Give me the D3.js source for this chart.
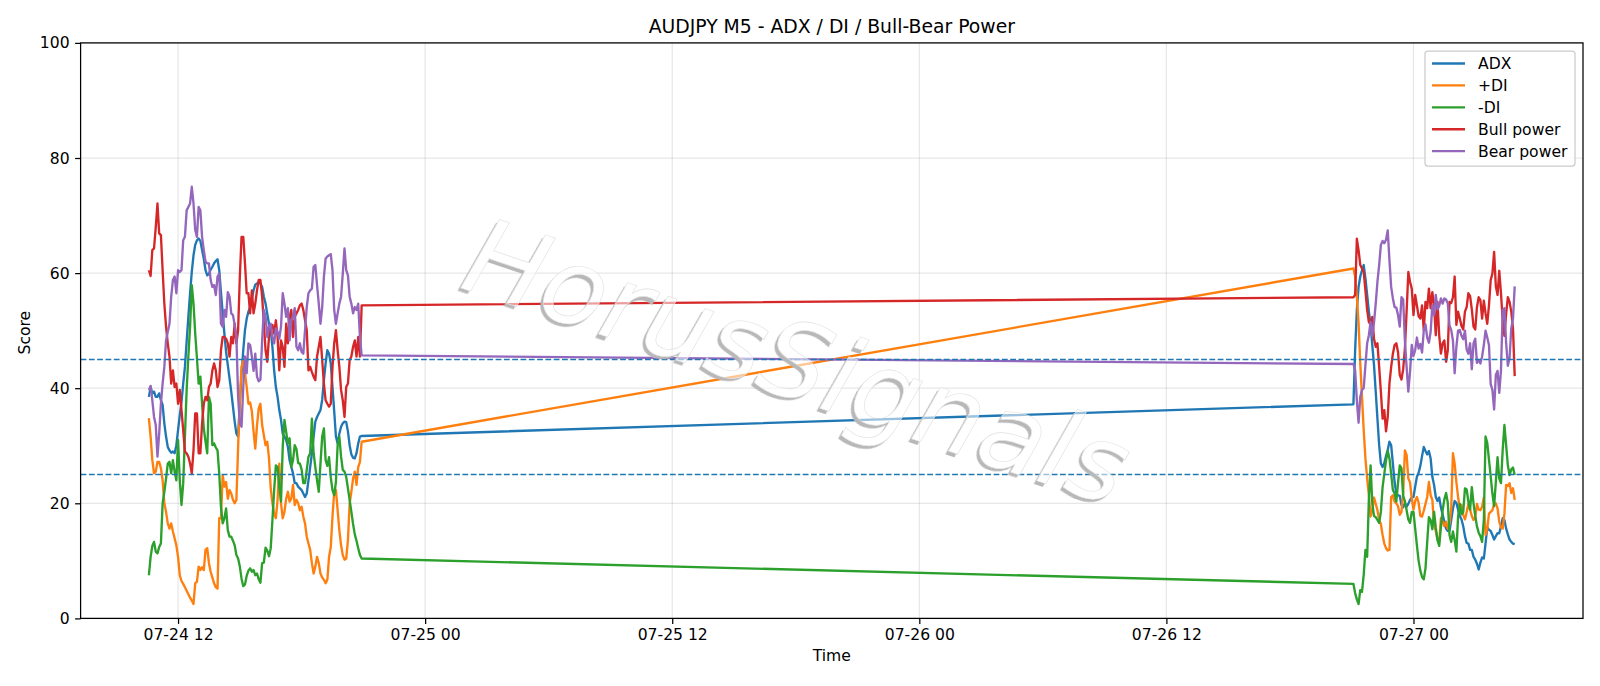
<!DOCTYPE html>
<html>
<head>
<meta charset="utf-8">
<script src="https://d3js.org/d3.v7.min.js"></script>
<style>
html, body { margin: 0; padding: 0; background: #fff; }
svg text { font-family: "DejaVu Sans", sans-serif; }
</style>
</head>
<body>
<div id="svgcontainer"></div>
<script>
// global variables
var WIDTH = 1600;
var HEIGHT = 686;
var PLOT_LEFT = 80.6;
var PLOT_RIGHT = 1583;
var PLOT_TOP = 42.9;
var PLOT_BOTTOM = 618.4;

var TITLE = "AUDJPY M5 - ADX / DI / Bull-Bear Power";
var WATERMARK = "HorusSignals";
var SERIES_NAMES = ["ADX", "+DI", "-DI", "Bull power", "Bear power"];
var SERIES_COLORS = ["#1f77b4", "#ff7f0e", "#2ca02c", "#d62728", "#9467bd"];
var Y_TICKS = [0, 20, 40, 60, 80, 100];
var LEVELS = [25, 45];

// two sessions of M5 bars (friday, then sunday open)
var SEG_STARTS = ["2020-07-24T10:35:00Z", "2020-07-26T21:05:00Z"];
var SEG_LENGTHS = [125, 95];

var adx = [
  38.5, 40.2, 39.1, 39.4, 38.5, 38.5, 39.1, 37.9, 37.1, 33.9,
  31.6, 29.8, 29.2, 28.8, 29, 28.7, 30.1, 32.7, 35.3, 37.6,
  40.8, 43.7, 48.1, 52.4, 56.5, 60.2, 63.1, 64.9, 65.7, 66,
  65.6, 64, 62.5, 60.5, 59.6, 59.9, 60.6, 61.1, 61.7, 62.1,
  62.4, 60.5, 56.7, 53, 49.5, 46.3, 44, 41.7, 39.4, 36.8,
  34.2, 32.1, 31.6, 37.3, 42.6, 46.6, 50.1, 52.1, 53.3, 54.1,
  55.5, 57, 58, 58.2, 58.4, 58.2, 57.6, 55.9, 54.7, 52.9,
  51.2, 50.1, 47.2, 43.1, 40.2, 38.5, 36.2, 34.5, 32.1, 31.6,
  31, 29.8, 27.5, 26.3, 25.2, 23.5, 23.5, 22.9, 22.6, 22.3,
  21.7, 21.1, 21.7, 24, 26.3, 28.7, 31.6, 34.2, 35, 35.6,
  36.2, 38, 41.4, 44.3, 46.6, 46, 44.3, 40.2, 36, 31.6,
  30.4, 32.1, 33.3, 33.9, 34.2, 34.1, 32.5, 30.1, 28.5, 27.9,
  27.8, 28.7, 30.4, 31.6, 31.7,
  37.2, 46.6, 53.6, 57.6, 59.4, 60.5, 61.4, 59.1, 56.2, 53.3,
  51, 47.5, 44, 39.4, 34.7, 30.1, 26.9, 26.3, 27, 28.2,
  29.3, 30.7, 30.1, 26.9, 23.7, 21.7, 21.4, 21.3, 19.7, 19.3,
  20, 19.4, 19.9, 20.6, 21, 21.1, 22.9, 24.6, 25.3, 26.5,
  28.2, 29.8, 29.1, 28.5, 29.1, 27.8, 24.6, 23.2, 21.1, 20.4,
  21, 19.3, 18, 16.8, 15.6, 15.2, 15.2, 17.1, 19.1, 20.4,
  20.1, 18.9, 17.8, 17.2, 16, 14.3, 13.1, 13, 11.9, 11.9,
  10.7, 10.2, 9.5, 8.5, 9.7, 10.6, 10.4, 13, 15.8, 15.4,
  15.2, 14.5, 13.7, 14.3, 14.8, 14.8, 16, 17.4, 17.1, 15.6,
  14.6, 13.7, 13.3, 13, 12.9
];

var plusDI = [
  34.8, 31.6, 27.5, 25.2, 25.5, 27.2, 27.2, 26.1, 24, 20,
  18.5, 16.5, 15.6, 16.5, 15.1, 13.9, 12.7, 10.7, 7.5, 6.5,
  6, 5.4, 4.8, 4.2, 3.6, 3.1, 2.5, 6.1, 6.4, 9,
  8.4, 8.9, 8.4, 11.9, 12.2, 9.6, 8.1, 7.1, 6.1, 5.4,
  5.2, 17.4, 17.4, 24.9, 22.9, 23.7, 20.8, 22.3, 21.7, 20.6,
  20, 20.6, 29.8, 37.9, 43.7, 44.9, 42.6, 40.2, 37.3, 37.5,
  36, 32.5, 29.5, 33.5, 36.5, 37.3, 33.6, 31.8, 30.1, 30.7,
  27.8, 22.6, 20, 18.2, 17.4, 20.6, 26.9, 20, 17.4, 18.5,
  20.8, 22, 20.3, 20.8, 23.2, 19.7, 20.6, 20, 18.8, 19.4,
  17.7, 16.5, 14.2, 13, 11.9, 9.6, 7.8, 9, 10.7, 9.6,
  7.8, 7.1, 6.7, 6.1, 6.7, 10.7, 12.4, 17.7, 22, 22.3,
  18.8, 15.3, 12.7, 11, 10.2, 10.4, 13.6, 20, 22, 24.3,
  25.5, 23.2, 26.3, 27.2, 30.7,
  60.8, 59.4, 55.9, 51.3, 44.3, 38.5, 32.7, 27.8, 24.3, 21.4,
  17.7, 18.8, 21, 19.9, 18.8, 17.1, 16.4, 14.5, 13, 12.2,
  11.8, 11.9, 21.1, 21.4, 20.3, 20, 19.5, 18, 18.5, 21.7,
  29.2, 28.4, 24.3, 23.6, 20.8, 18.9, 20.4, 21.1, 20.1, 17.8,
  17.7, 18.7, 19.9, 21.1, 23.7, 21.4, 20.6, 16.2, 15.2, 13.7,
  13.3, 17.4, 16.8, 16, 16.8, 15.6, 16.4, 19.1, 28.7, 26.9,
  23.7, 21.1, 19.1, 19.7, 18, 17.2, 18.5, 19.9, 18.9, 17.8,
  17.1, 17.6, 19.9, 18.9, 18.8, 19.4, 21, 14.5, 15.5, 18.2,
  18.5, 18.8, 19.9, 20, 19.1, 16.8, 15.8, 15.6, 18.2, 23.2,
  23, 23.5, 21.8, 22.6, 20.6
];

var minusDI = [
  7.5, 10.7, 12.6, 13.3, 11.6, 11.3, 12.4, 13, 20, 22,
  24.3, 26.9, 27.2, 25.2, 27.5, 25.5, 24, 31, 24, 19.7,
  23.5, 31.6, 39.7, 45.5, 50.7, 57.9, 54.7, 49.5, 45.2, 40.8,
  42, 37.3, 33, 30.7, 28.7, 38.5, 37.3, 30.1, 30.4, 29.7,
  29.2, 25.2, 19.4, 16.5, 17.4, 19.1, 15.3, 14.2, 14.2, 13.5,
  12.7, 11, 10.4, 9, 6.9, 5.6, 5.9, 7.4, 8.3, 8.7,
  8.1, 8.4, 7.5, 7.8, 6.8, 6.2, 9.6, 9.7, 12.3, 11.8,
  10.8, 12.2, 17.1, 22.3, 26.6, 26.3, 22.9, 20.3, 29.8, 34.5,
  32.4, 30.4, 31.3, 26.3, 27.5, 30.1, 29.4, 27, 26.9, 25.9,
  23.5, 23.5, 25.8, 28.1, 28.7, 34.7, 28.7, 26.3, 24, 22,
  26.9, 31.6, 33, 27.5, 26.5, 28, 24.5, 22.3, 21.4, 23.7,
  30.1, 31.6, 28.1, 25.8, 25.5, 24.6, 22.6, 20.6, 18.5, 16.4,
  14.6, 13.5, 12.2, 11, 10.4,
  6, 4.4, 3.3, 2.5, 4.9, 4.6, 7.6, 11.9, 10.7, 20.6,
  26.6, 20, 17.8, 17.6, 17.1, 16.6, 18.5, 22.8, 25.1, 27.4,
  29.1, 27.8, 25.1, 22.3, 21.7, 20.3, 23.5, 26.6, 26.1, 21.3,
  20.4, 18.8, 17.2, 16.6, 18.5, 18.5, 15.6, 12.7, 10, 8.3,
  7.2, 6.8, 8.7, 13.3, 17.6, 17.1, 15.5, 18.5, 15.8, 13.6,
  12.6, 15.9, 18.8, 20.7, 21.8, 20.1, 14.5, 13.3, 15.1, 13.6,
  11.6, 17.7, 19.9, 18.1, 18.5, 22.6, 22.4, 20.3, 18.9, 22.8,
  20, 17.8, 16, 14.9, 14.3, 13.3, 17.1, 31.6, 30.5, 27.6,
  24.7, 21.7, 19.5, 23.7, 28, 24.3, 23.5, 29.3, 33.6, 30.1,
  26.6, 24.9, 25.9, 26.2, 24.9
];

var bullPower = [
  60.5, 59.5, 64, 64.3, 68, 72.1, 66.9, 66.6, 60.5, 54.7,
  50.7, 47.8, 45.5, 40.8, 43.1, 40.2, 40.8, 37.3, 39.7, 36.2,
  32.7, 29, 28.7, 28.1, 26.9, 25.2, 29.2, 35.6, 35.6, 28.7,
  28.7, 33.9, 37.3, 38.5, 37.9, 40.2, 40.8, 43.1, 44.3, 43.1,
  40.2, 41.4, 46.6, 48.9, 48.9, 48.6, 47.8, 45.5, 48.9, 47.8,
  51.2, 47.8, 50.1, 59.4, 66.3, 66.3, 61.7, 56.5, 56.5, 53,
  57, 53, 54.7, 57, 58.8, 58.8, 55.9, 51.2, 46.6, 44.6,
  48.9, 50.7, 51, 49.5, 51.8, 48.9, 43.1, 48.3, 47.2, 43.7,
  51.2, 47.8, 52.4, 53.6, 48.9, 52.4, 53, 53.6, 54.4, 54.7,
  53.6, 51.8, 50.1, 43.1, 43.7, 42.8, 42, 41.4, 45.5, 47.2,
  48.9, 44.9, 40.8, 37.9, 37.3, 36.8, 37.3, 43.7, 47.8, 50.1,
  46.6, 43.7, 39.7, 37.9, 35, 40.2, 40.8, 44.9, 45.5, 47.2,
  48.3, 45.5, 48.9, 45.5, 54.4,
  55.8, 56.2, 66, 64, 61.4, 60.8, 60.2, 57, 53.6, 51.5,
  51, 52.4, 48.6, 47.2, 47.8, 43.7, 39.4, 34.7, 36.2, 32.5,
  35, 40.8, 43.7, 46, 47.5, 47.8, 46.3, 42.3, 41.5, 43.3,
  46.9, 53.3, 60.2, 58.5, 57.3, 52.7, 56.2, 54.4, 52.5, 52.1,
  54.4, 50.1, 55, 53.9, 57.3, 53.9, 56.7, 54.4, 49.2, 55,
  49.2, 46, 47.8, 48.3, 44.6, 46.6, 55, 54.8, 55.8, 59.4,
  51, 53.3, 52.1, 50.8, 50.2, 53.3, 54.1, 56.5, 56, 53.7,
  50.7, 50.2, 54.1, 55.8, 55.3, 52.1, 55.2, 53, 51.2, 54.4,
  58.8, 59.9, 63.7, 57.7, 56.2, 60.4, 56.5, 51.8, 49.1, 52.9,
  55.8, 55, 53.3, 50.4, 42.1
];

var bearPower = [
  39.7, 40.4, 37.9, 35, 33.6, 28.1, 32.1, 37.3, 40.8, 43.7,
  48.3, 49.8, 51.2, 55.9, 58.8, 59.4, 56.5, 60.5, 60.2, 60.5,
  65.7, 66.3, 70.9, 71.5, 72.1, 75, 72.1, 67.5, 66.3, 71.5,
  70.9, 66.3, 64, 62, 61.7, 61.7, 58.8, 57.6, 57.9, 56.2,
  59.4, 59.9, 51.2, 50.7, 53.6, 52.4, 56.7, 55.9, 53, 52.7,
  51, 48.9, 38.5, 33.9, 33.3, 40.2, 45.5, 42.6, 47.8, 47.5,
  45.5, 43, 46, 42, 41.2, 41.5, 48.3, 53.6, 52.4, 48.9,
  50.7, 51.2, 48.9, 47.8, 50.4, 49.8, 48.6, 50.7, 56.5, 54.7,
  52.4, 53.9, 48.3, 51.8, 52.4, 53.9, 47.2, 46.6, 47.8, 46.3,
  46, 50.1, 54.1, 56.5, 57, 57.3, 61.1, 61.4, 57.9, 54.7,
  51.2, 54.1, 59.4, 62.5, 62.9, 63.1, 63.3, 60.5, 53.6, 51.2,
  53, 54.7, 55.9, 59.9, 64.3, 60.5, 59.6, 55.9, 54.7, 53,
  54.1, 53.6, 54.7, 48.9, 45.7,
  44.2, 43.1, 37.9, 34, 38.5, 39.7, 40, 44, 47.8, 49.2,
  51.5, 49.1, 51.4, 54.7, 58.5, 61.4, 64.9, 65.6, 65.2, 65.8,
  67.4, 62.2, 57.6, 55.6, 54.1, 54, 52.7, 50.7, 55.8, 55.4,
  48.3, 43.7, 39.4, 42.9, 47.5, 45.6, 46.6, 48.8, 46.9, 47.7,
  46.2, 50, 51.1, 48.8, 47.9, 49.8, 54.4, 52.7, 56.2, 53.7,
  54.3, 55.6, 54.7, 55.6, 55.4, 54.7, 50.9, 50.1, 48.3, 42.6,
  47.2, 50, 50.1, 49.1, 48.5, 50, 46.7, 46, 47.8, 43.3,
  47.8, 48.6, 44.4, 44.9, 44.3, 45.5, 47.5, 50, 48.8, 47.5,
  40.7, 39.7, 36.3, 42.3, 43, 39.2, 43.1, 53.6, 53.9, 47.9,
  43.9, 45.2, 50.4, 52.1, 57.7
];

var SERIES_VALUES = [adx, plusDI, minusDI, bullPower, bearPower];

generatePlot();

function generatePlot() {
    // bar times, 5 minutes apart inside each session
    var times = [];
    for (var s = 0; s < SEG_STARTS.length; s++) {
        var t0 = Date.parse(SEG_STARTS[s]);
        for (var k = 0; k < SEG_LENGTHS[s]; k++) {
            times.push(new Date(t0 + k * 5 * 60 * 1000));
        }
    }

    // matplotlib style 5% margin on the time axis
    var tmin = times[0].getTime();
    var tmax = times[times.length - 1].getTime();
    var pad = (tmax - tmin) * 0.05;

    var x = d3.scaleUtc()
        .domain([new Date(tmin - pad), new Date(tmax + pad)])
        .range([PLOT_LEFT, PLOT_RIGHT]);
    var y = d3.scaleLinear()
        .domain([0, 100])
        .range([PLOT_BOTTOM, PLOT_TOP]);

    var svg_container = d3.select("#svgcontainer")
        .append("svg")
        .attr("width", WIDTH)
        .attr("height", HEIGHT);

    svg_container.append("rect")
        .attr("width", WIDTH).attr("height", HEIGHT).attr("fill", "white");

    var xTicks = x.ticks(d3.utcHour.every(12));

    // grid
    var grid = svg_container.append("g");
    grid.selectAll(".vgrid").data(xTicks).enter().append("line")
        .attr("x1", function(d) { return x(d); })
        .attr("x2", function(d) { return x(d); })
        .attr("y1", PLOT_TOP).attr("y2", PLOT_BOTTOM)
        .attr("stroke", "#b0b0b0").attr("stroke-opacity", 0.3)
        .attr("stroke-width", 1.25);
    grid.selectAll(".hgrid").data(Y_TICKS).enter().append("line")
        .attr("x1", PLOT_LEFT).attr("x2", PLOT_RIGHT)
        .attr("y1", function(d) { return y(d); })
        .attr("y2", function(d) { return y(d); })
        .attr("stroke", "#b0b0b0").attr("stroke-opacity", 0.3)
        .attr("stroke-width", 1.25);

    // clip for the data lines
    svg_container.append("clipPath").attr("id", "plotclip")
        .append("rect")
        .attr("x", PLOT_LEFT).attr("y", PLOT_TOP)
        .attr("width", PLOT_RIGHT - PLOT_LEFT)
        .attr("height", PLOT_BOTTOM - PLOT_TOP);

    var plot = svg_container.append("g").attr("clip-path", "url(#plotclip)");

    var line = d3.line()
        .x(function(d) { return x(d.t); })
        .y(function(d) { return y(d.v); });

    for (var i = 0; i < SERIES_VALUES.length; i++) {
        var rows = SERIES_VALUES[i].map(function(v, k) { return {t: times[k], v: v}; });
        plot.append("path")
            .datum(rows)
            .attr("d", line)
            .attr("fill", "none")
            .attr("stroke", SERIES_COLORS[i])
            .attr("stroke-width", 2.35)
            .attr("stroke-linejoin", "round");
    }

    // threshold levels
    plot.selectAll(".level").data(LEVELS).enter().append("line")
        .attr("x1", PLOT_LEFT).attr("x2", PLOT_RIGHT)
        .attr("y1", function(d) { return y(d); })
        .attr("y2", function(d) { return y(d); })
        .attr("stroke", "#1f77b4")
        .attr("stroke-width", 1.5)
        .attr("stroke-dasharray", "5.8,2.5");

    plotWatermark(svg_container);

    // axes
    var xAxis = d3.axisBottom(x)
        .tickValues(xTicks)
        .tickFormat(d3.utcFormat("%m-%d %H"))
        .tickSize(5.5).tickPadding(5.5).tickSizeOuter(0);
    var gx = svg_container.append("g")
        .attr("transform", "translate(0," + PLOT_BOTTOM + ")")
        .call(xAxis);
    var yAxis = d3.axisLeft(y)
        .tickValues(Y_TICKS)
        .tickSize(5.5).tickPadding(5.5).tickSizeOuter(0);
    var gy = svg_container.append("g")
        .attr("transform", "translate(" + PLOT_LEFT + ",0)")
        .call(yAxis);

    [gx, gy].forEach(function(g) {
        g.select(".domain").remove();
        g.selectAll(".tick line").attr("stroke", "black").attr("stroke-width", 1.25);
        g.selectAll(".tick text")
            .attr("fill", "black")
            .style("font-family", "DejaVu Sans")
            .style("font-size", "15.6px");
    });

    // spines
    svg_container.append("rect")
        .attr("x", PLOT_LEFT).attr("y", PLOT_TOP)
        .attr("width", PLOT_RIGHT - PLOT_LEFT)
        .attr("height", PLOT_BOTTOM - PLOT_TOP)
        .attr("fill", "none")
        .attr("stroke", "black")
        .attr("stroke-width", 1.25);

    // title and axis labels
    svg_container.append("text")
        .attr("x", (PLOT_LEFT + PLOT_RIGHT) / 2).attr("y", 33)
        .attr("text-anchor", "middle")
        .style("font-size", "18.8px")
        .text(TITLE);
    svg_container.append("text")
        .attr("x", (PLOT_LEFT + PLOT_RIGHT) / 2).attr("y", 661)
        .attr("text-anchor", "middle")
        .style("font-size", "15.6px")
        .text("Time");
    svg_container.append("text")
        .attr("transform", "translate(30," + ((PLOT_TOP + PLOT_BOTTOM) / 2 + 2) + ") rotate(-90)")
        .attr("text-anchor", "middle")
        .style("font-size", "15.6px")
        .text("Score");

    plotLegend(svg_container);
}

// faint rotated brand text: gray shadow only outside the letters, see-through white body
function plotWatermark(svg_container) {
    var place = "translate(458,287) rotate(18.5)";

    var defs = svg_container.append("defs");
    defs.append("filter").attr("id", "wmblur")
        .attr("x", "-5%").attr("y", "-5%").attr("width", "110%").attr("height", "110%")
        .append("feGaussianBlur").attr("stdDeviation", 0.7);

    var mask = defs.append("mask").attr("id", "wmmask")
        .attr("maskUnits", "userSpaceOnUse")
        .attr("x", 0).attr("y", 0).attr("width", WIDTH).attr("height", HEIGHT);
    mask.append("rect")
        .attr("width", WIDTH).attr("height", HEIGHT).attr("fill", "white");
    mask.append("text")
        .attr("transform", place)
        .style("font-size", "106px")
        .style("font-style", "italic")
        .attr("fill", "black")
        .text(WATERMARK);

    svg_container.append("g")
        .attr("mask", "url(#wmmask)")
        .append("text")
        .attr("transform", "translate(-3.2,3.2) " + place)
        .attr("filter", "url(#wmblur)")
        .style("font-size", "106px")
        .style("font-style", "italic")
        .attr("fill", "#b8b8b8")
        .text(WATERMARK);

    svg_container.append("text")
        .attr("transform", place)
        .style("font-size", "106px")
        .style("font-style", "italic")
        .attr("fill", "white")
        .attr("fill-opacity", 0.55)
        .attr("stroke", "#e2e2e2")
        .attr("stroke-width", 0.6)
        .text(WATERMARK);
}

// legend box in the upper right corner
function plotLegend(svg_container) {
    var lg = svg_container.append("g");
    lg.append("rect")
        .attr("x", 1425).attr("y", 51)
        .attr("width", 150).attr("height", 115)
        .attr("rx", 3).attr("ry", 3)
        .attr("fill", "white").attr("fill-opacity", 0.8)
        .attr("stroke", "#cccccc").attr("stroke-width", 1.25);

    for (var i = 0; i < SERIES_NAMES.length; i++) {
        var ly = 63.5 + i * 21.9;
        lg.append("line")
            .attr("x1", 1432).attr("x2", 1465)
            .attr("y1", ly).attr("y2", ly)
            .attr("stroke", SERIES_COLORS[i])
            .attr("stroke-width", 2.35);
        lg.append("text")
            .attr("x", 1478).attr("y", ly)
            .attr("dy", "0.36em")
            .style("font-size", "15.6px")
            .text(SERIES_NAMES[i]);
    }
}
</script>
</body>
</html>
